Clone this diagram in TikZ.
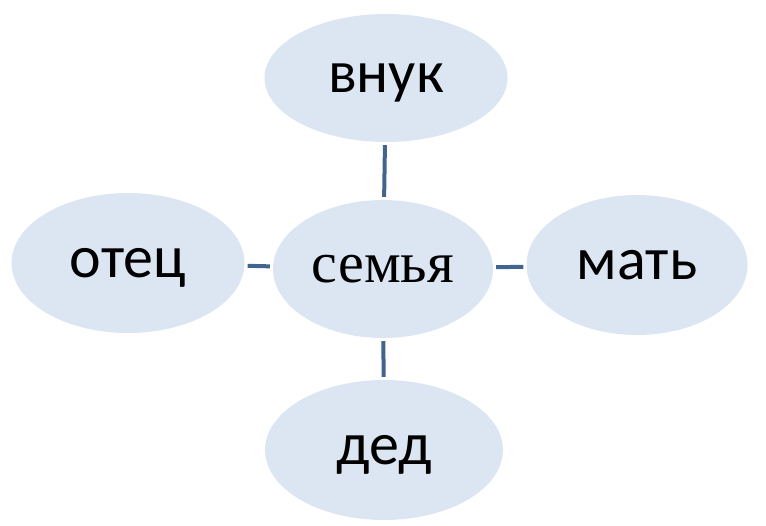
\documentclass[tikz,border=0pt]{standalone}
\usepackage{fontspec}
\setmainfont{Carlito}
\newfontfamily\serifcyr{Liberation Serif}
\usetikzlibrary{shapes.geometric}
\definecolor{famfill}{RGB}{220,230,242}
\definecolor{famline}{RGB}{66,100,142}
\begin{document}
\begin{tikzpicture}[x=1pt, y=-1pt,
		member/.style={ellipse, fill=famfill, draw=none, inner sep=0pt,
			font=\fontsize{60}{62}\selectfont, text height=28pt, text depth=0pt},
		link/.style={draw=famline, line width=4pt, shorten >=3pt, shorten <=3pt}
	]
		\useasboundingbox (0,0) rectangle (766,525);
		% центр
		\node[member, minimum width=220pt, minimum height=138pt,
			font=\serifcyr\fontsize{58}{60}\selectfont, text height=26pt] (semya) at (383,269) {семья};
		% родственники
		\node[member, minimum width=243pt, minimum height=128pt] (vnuk) at (386,78) {внук};
		\node[member, minimum width=233pt, minimum height=140pt] (otec) at (128,263) {отец};
		\node[member, minimum width=221pt, minimum height=140pt] (mat) at (637,265) {мать};
		\node[member, minimum width=238pt, minimum height=140pt] (ded) at (384,450) {дед};
		% связи
		\draw[link] (vnuk) -- (semya);
		\draw[link] (otec) -- (semya);
		\draw[link] (semya) -- (mat);
		\draw[link] (semya) -- (ded);
	\end{tikzpicture}
\end{document}
